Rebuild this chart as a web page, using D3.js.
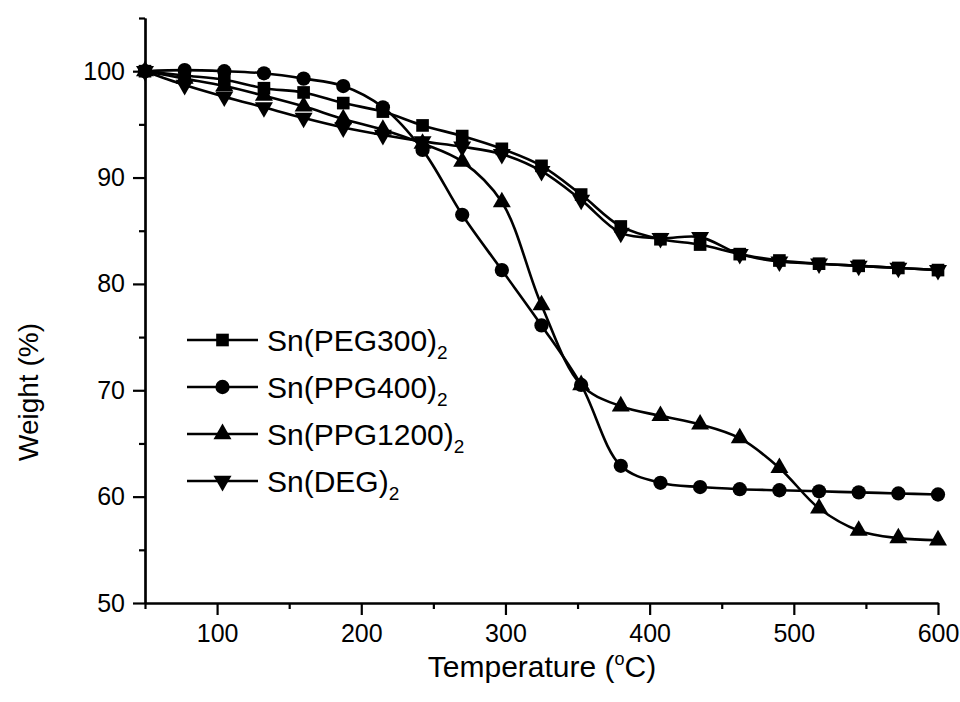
<!DOCTYPE html>
<html>
<head>
<meta charset="utf-8">
<script src="https://cdn.jsdelivr.net/npm/d3@7"></script>
<style>
  body { margin: 0; background: #fff; }
  text { font-family: "Liberation Sans", Arial, sans-serif; fill: #000; }
</style>
</head>
<body>
<svg width="960" height="702"></svg>
<script>
// temperature points (every 27.5 degC)
const temps = [50, 77.5, 105, 132.5, 160, 187.5, 215, 242.5, 270, 297.5, 325,
               352.5, 380, 407.5, 435, 462.5, 490, 517.5, 545, 572.5, 600]

const peg300 = [100, 99.6, 99.2, 98.4, 98.0, 97.0, 96.2, 94.9, 93.9, 92.7, 91.1,
                88.4, 85.4, 84.2, 83.7, 82.8, 82.2, 81.9, 81.7, 81.5, 81.3]
const ppg400 = [100, 100.1, 100.0, 99.8, 99.3, 98.6, 96.6, 92.6, 86.5, 81.3, 76.1,
                70.5, 62.9, 61.3, 60.9, 60.7, 60.6, 60.5, 60.4, 60.3, 60.2]
const ppg1200 = [100, 99.3, 98.6, 97.7, 96.7, 95.5, 94.5, 93.2, 91.5, 87.7, 78.0,
                 70.5, 68.5, 67.6, 66.8, 65.5, 62.7, 58.9, 56.8, 56.1, 55.9]
const deg = [100, 98.7, 97.6, 96.6, 95.6, 94.7, 94.0, 93.4, 92.9, 92.2, 90.6,
             87.9, 84.8, 84.3, 84.4, 82.8, 82.1, 81.9, 81.7, 81.5, 81.3]

const seriesNames = ['Sn(PEG300)', 'Sn(PPG400)', 'Sn(PPG1200)', 'Sn(DEG)']
const seriesValues = [peg300, ppg400, ppg1200, deg]
const seriesSymbols = ['square', 'circle', 'triangle', 'down']

const xTicks = [100, 200, 300, 400, 500, 600]
const yTicks = [50, 60, 70, 80, 90, 100]

const svg = d3.select('svg')

// plot box
const plotLeft = 145, plotRight = 938, plotTop = 18, plotBottom = 603

const x = d3.scaleLinear().domain([50, 600]).range([plotLeft, plotRight])
const y = d3.scaleLinear().domain([50, 105]).range([plotBottom, plotTop])

// marker shapes
const symbolPath = {
    square: d3.symbol().type(d3.symbolSquare).size(160)(),
    circle: d3.symbol().type(d3.symbolCircle).size(160)(),
    triangle: d3.symbol().type(d3.symbolTriangle).size(140)(),
    down: d3.symbol().type(d3.symbolTriangle).size(140)()
}
const symbolRotate = { square: 0, circle: 0, triangle: 0, down: 180 }

const line = d3.line()
    .x(d => x(d[0]))
    .y(d => y(d[1]))
    .curve(d3.curveCatmullRom)

// series
seriesValues.forEach((vals, i) => {
    const pts = temps.map((t, j) => [t, vals[j]])
    const sym = seriesSymbols[i]
    const g = svg.append('g')
    g.append('path')
        .attr('d', line(pts))
        .attr('fill', 'none')
        .attr('stroke', '#000')
        .attr('stroke-width', 2.6)
    g.selectAll('path.mk')
        .data(pts)
        .join('path')
            .attr('class', 'mk')
            .attr('d', symbolPath[sym])
            .attr('transform', d => `translate(${x(d[0])},${y(d[1])}) rotate(${symbolRotate[sym]})`)
            .attr('fill', '#000')
})

// axes
const xAxis = d3.axisBottom(x).tickValues(xTicks).tickSize(12).tickPadding(9).tickSizeOuter(0)
const xMinor = d3.axisBottom(x).tickValues([50, 150, 250, 350, 450, 550]).tickSize(6).tickFormat('').tickSizeOuter(0)
const yAxis = d3.axisLeft(y).tickValues(yTicks).tickSize(12).tickPadding(8).tickSizeOuter(0)
const yMinor = d3.axisLeft(y).tickValues([55, 65, 75, 85, 95, 105]).tickSize(6).tickFormat('').tickSizeOuter(0)

function styleAxis(g) {
    g.selectAll('path.domain').attr('stroke', '#000').attr('stroke-width', 2.2)
    g.selectAll('.tick line').attr('stroke', '#000').attr('stroke-width', 2.2)
    g.selectAll('.tick text')
        .style('font-family', '"Liberation Sans", Arial, sans-serif')
        .attr('font-size', 25)
        .attr('fill', '#000')
}

svg.append('g').attr('transform', `translate(0,${plotBottom})`).call(xMinor).call(styleAxis)
svg.append('g').attr('transform', `translate(0,${plotBottom})`).call(xAxis).call(styleAxis)
svg.append('g').attr('transform', `translate(${plotLeft},0)`).call(yMinor).call(styleAxis)
svg.append('g').attr('transform', `translate(${plotLeft},0)`).call(yAxis).call(styleAxis)

// axis titles
const xTitle = svg.append('text')
    .attr('x', 542)
    .attr('y', 677)
    .attr('text-anchor', 'middle')
    .attr('font-size', 30)
xTitle.append('tspan').text('Temperature (')
xTitle.append('tspan').text('o').attr('font-size', 18).attr('dy', -12)
xTitle.append('tspan').text('C)').attr('dy', 12)

svg.append('text')
    .attr('transform', 'translate(38,392) rotate(-90)')
    .attr('text-anchor', 'middle')
    .attr('font-size', 28)
    .text('Weight (%)')

// legend
const legend = svg.append('g').attr('transform', 'translate(187,340)')
seriesNames.forEach((name, i) => {
    const row = legend.append('g').attr('transform', `translate(0,${i * 47})`)
    const sym = seriesSymbols[i]
    row.append('line')
        .attr('x1', 0).attr('x2', 71)
        .attr('stroke', '#000').attr('stroke-width', 2.6)
    row.append('path')
        .attr('d', symbolPath[sym])
        .attr('transform', `translate(35.5,0) rotate(${symbolRotate[sym]})`)
        .attr('fill', '#000')
    const t = row.append('text')
        .attr('x', 80)
        .attr('y', 11)
        .attr('font-size', 30)
    t.append('tspan').text(name)
    t.append('tspan').text('2').attr('font-size', 19).attr('dy', 8)
})
</script>
</body>
</html>
